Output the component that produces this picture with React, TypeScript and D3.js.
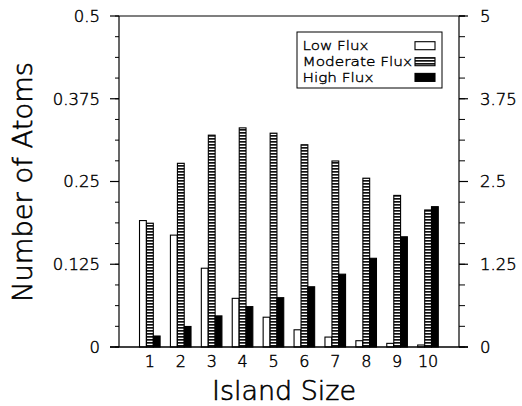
import React from "react";
import * as d3 from "d3";

const islandSizes = [1, 2, 3, 4, 5, 6, 7, 8, 9, 10];
const lowFlux = [0.191, 0.169, 0.119, 0.0735, 0.045, 0.026, 0.015, 0.0095, 0.0055, 0.003];
const moderateFlux = [0.187, 0.2775, 0.32, 0.331, 0.323, 0.3055, 0.281, 0.255, 0.229, 0.207];
const highFlux = [0.0166, 0.031, 0.047, 0.061, 0.0745, 0.091, 0.11, 0.134, 0.1665, 0.212];
const leftTicks = [0, 0.125, 0.25, 0.375, 0.5];
const leftTickLabels = ["0", "0.125", "0.25", "0.375", "0.5"];
const rightTicks = [0, 1.25, 2.5, 3.75, 5];
const rightTickLabels = ["0", "1.25", "2.5", "3.75", "5"];
const seriesNames = ["Low Flux", "Moderate Flux", "High Flux"];

const W = 522, H = 406;
const left = 119, right = 459, top = 16, bottom = 347;
const FONT = "'DejaVu Sans', sans-serif";
const FW = 200;
const TS = { stroke: "#000", strokeWidth: 0.45, fill: "#000" };

export default function App() {
  const x = d3.scaleLinear().domain([0, 11]).range([left, right]);
  const y = d3.scaleLinear().domain([0, 0.5]).range([bottom, top]);
  const y2 = d3.scaleLinear().domain([0, 5]).range([bottom, top]);
  const bw = 6.8;
  const offsets = [-10.4, -3.4, 3.4];
  const fills = ["#fff", "url(#stripes)", "#000"];
  const series = [lowFlux, moderateFlux, highFlux];
  const leftMinor = d3.range(0, 0.5001, 0.03125);
  const rightMinor = d3.range(0, 5.001, 0.3125);

  return (
    <svg width={W} height={H} style={{ position: "absolute", left: 0, top: 0, background: "#fff" }}>
      <defs>
        <pattern id="stripes" width="4" height="3" patternUnits="userSpaceOnUse">
          <rect width="4" height="3" fill="#fff" />
          <rect width="4" height="1.7" fill="#111" />
        </pattern>
      </defs>
      <rect width={W} height={H} fill="#fff" />
      {series.map((vals, s) =>
        vals.map((v, i) => (
          <rect
            key={s + "-" + i}
            x={x(islandSizes[i]) + offsets[s]}
            y={y(v)}
            width={bw}
            height={bottom - y(v)}
            fill={fills[s]}
            stroke="#000"
            strokeWidth={1.1}
          />
        ))
      )}
      <line x1={left} x2={right + 6} y1={top} y2={top} stroke="#000" strokeWidth={1.2} />
      <line x1={left - 9} x2={right + 9} y1={bottom} y2={bottom} stroke="#000" strokeWidth={1.4} />
      <line x1={left} x2={left} y1={top} y2={bottom} stroke="#000" strokeWidth={1.2} />
      <line x1={right} x2={right} y1={top} y2={bottom} stroke="#000" strokeWidth={1.2} />
      {leftMinor.map((t, i) => (
        <line key={"lm" + i} x1={left - 4} x2={left} y1={y(t)} y2={y(t)} stroke="#000" strokeWidth={1} />
      ))}
      {leftTicks.map((t, i) => (
        <g key={"lt" + i}>
          <line x1={left - 9} x2={left} y1={y(t)} y2={y(t)} stroke="#000" strokeWidth={1.2} />
          <text x={100} y={y(t)} dy="0.36em" textAnchor="end" fontFamily={FONT} fontWeight={FW} fontSize={16.5} {...TS}>
            {leftTickLabels[i]}
          </text>
        </g>
      ))}
      {rightMinor.map((t, i) => (
        <line key={"rm" + i} x1={right} x2={right + 6} y1={y2(t)} y2={y2(t)} stroke="#000" strokeWidth={1} />
      ))}
      {rightTicks.map((t, i) => (
        <g key={"rt" + i}>
          <line x1={right} x2={right + 9} y1={y2(t)} y2={y2(t)} stroke="#000" strokeWidth={1.2} />
          <text x={480} y={y2(t)} dy="0.36em" textAnchor="start" fontFamily={FONT} fontWeight={FW} fontSize={16.5} {...TS}>
            {rightTickLabels[i]}
          </text>
        </g>
      ))}
      {islandSizes.map((c, i) => (
        <text key={"xl" + i} x={x(c)} y={366.5} textAnchor="middle" fontFamily={FONT} fontWeight={FW} fontSize={16} {...TS}>
          {String(c)}
        </text>
      ))}
      <text x={284} y={400} textAnchor="middle" fontFamily={FONT} fontWeight={FW} fontSize={27} textLength={144} lengthAdjust="spacingAndGlyphs" {...TS} strokeWidth={0.6}>
        Island Size
      </text>
      <text
        transform={`translate(31.5,182) rotate(-90)`}
        textAnchor="middle"
        fontFamily={FONT}
        fontWeight={FW}
        fontSize={26.5}
        textLength={240}
        lengthAdjust="spacingAndGlyphs"
        {...TS}
        strokeWidth={0.6}
      >
        Number of Atoms
      </text>
      <rect x={297} y={32} width={145} height={56} fill="#fff" stroke="#000" strokeWidth={1} />
      {seriesNames.map((n, i) => {
        const ty = [50, 66, 81.7][i];
        const tw = [66, 109.5, 71][i];
        return (
          <g key={"lg" + i}>
            <text x={302.5} y={ty} fontFamily={FONT} fontWeight={FW} fontSize={12.5} textLength={tw} lengthAdjust="spacingAndGlyphs" {...TS} strokeWidth={0.35}>
              {n}
            </text>
            <rect x={415} y={ty - 8.3} width={20} height={8} fill={fills[i]} stroke="#000" strokeWidth={1.1} />
          </g>
        );
      })}
    </svg>
  );
}
